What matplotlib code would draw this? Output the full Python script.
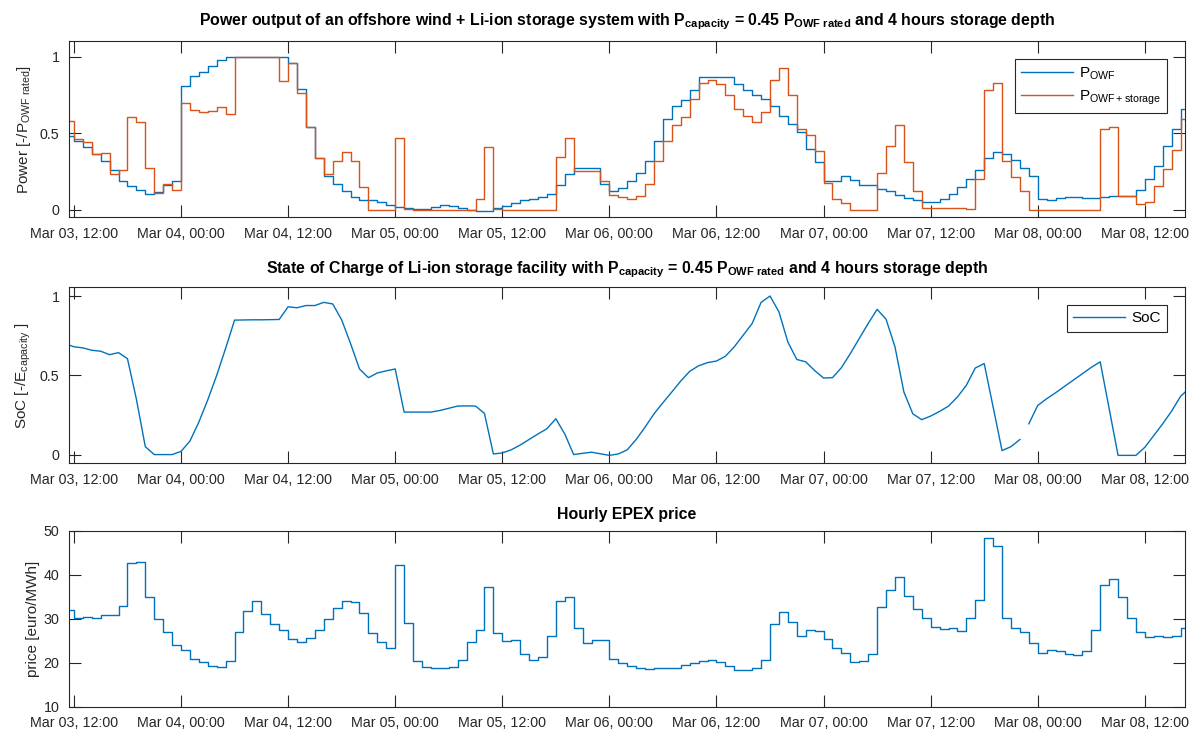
import numpy as np
import matplotlib
matplotlib.use("Agg")
import matplotlib.pyplot as plt
import matplotlib.dates as mdates

plt.rcParams['font.family'] = ['Liberation Sans', 'DejaVu Sans']
plt.rcParams['mathtext.fontset'] = 'custom'
plt.rcParams['mathtext.rm'] = 'Liberation Sans'
plt.rcParams['mathtext.it'] = 'Liberation Sans:italic'
plt.rcParams['mathtext.bf'] = 'Liberation Sans:bold'

# Data (hourly, hour 0 = Mar 03 12:00)
t0 = np.datetime64('2017-03-03T12:00')
hours = np.arange(-1, 125)
soc_hours = np.arange(-1, 126)

p_owf = [0.48, 0.45, 0.41, 0.365, 0.315, 0.256, 0.19, 0.155, 0.127, 0.10,
         0.115, 0.16, 0.185, 0.81, 0.87, 0.90, 0.94, 0.98, 1.0, 1.0,
         1.0, 1.0, 1.0, 1.0, 1.0, 0.96, 0.79, 0.54, 0.34, 0.22,
         0.165, 0.12, 0.085, 0.06, 0.06, 0.05, 0.03, 0.02, 0.01, 0.005,
         0.005, 0.02, 0.03, 0.025, 0.013, 0.0, -0.007, -0.007, 0.01, 0.026,
         0.046, 0.063, 0.072, 0.083, 0.10, 0.16, 0.23, 0.275, 0.275, 0.27,
         0.17, 0.12, 0.14, 0.185, 0.24, 0.315, 0.45, 0.59, 0.68, 0.715,
         0.785, 0.865, 0.865, 0.865, 0.865, 0.82, 0.78, 0.75, 0.725, 0.68,
         0.615, 0.56, 0.505, 0.395, 0.31, 0.185, 0.185, 0.22, 0.195, 0.16,
         0.16, 0.135, 0.12, 0.095, 0.075, 0.06, 0.052, 0.052, 0.07, 0.10,
         0.145, 0.20, 0.26, 0.335, 0.375, 0.365, 0.325, 0.27, 0.22, 0.068,
         0.063, 0.075, 0.083, 0.083, 0.075, 0.075, 0.083, 0.09, 0.09, 0.09,
         0.13, 0.20, 0.285, 0.415, 0.53, 0.66]

p_owf_storage = [0.58, 0.46, 0.44, 0.365, 0.37, 0.23, 0.26, 0.605, 0.575, 0.27,
                 0.11, 0.165, 0.13, 0.70, 0.65, 0.64, 0.645, 0.67, 0.625, 1.0,
                 1.0, 0.995, 1.0, 1.0, 0.84, 0.96, 0.76, 0.54, 0.34, 0.235,
                 0.32, 0.375, 0.32, 0.15, 0.0, 0.0, 0.0, 0.465, 0.005, 0.0,
                 0.0, 0.0, 0.0, 0.0, 0.0, 0.0, 0.07, 0.41, 0.005, 0.0,
                 0.0, 0.0, 0.0, 0.0, 0.0, 0.345, 0.47, 0.25, 0.25, 0.25,
                 0.19, 0.095, 0.08, 0.07, 0.09, 0.17, 0.315, 0.45, 0.55, 0.605,
                 0.72, 0.83, 0.845, 0.82, 0.75, 0.655, 0.615, 0.57, 0.64, 0.85,
                 0.925, 0.75, 0.53, 0.49, 0.38, 0.175, 0.068, 0.046, 0.0, 0.0,
                 0.0, 0.24, 0.415, 0.55, 0.31, 0.12, 0.008, 0.008, 0.008, 0.008,
                 0.013, 0.005, 0.20, 0.785, 0.825, 0.32, 0.215, 0.12, 0.0, 0.0,
                 0.0, 0.0, 0.0, 0.0, 0.0, 0.0, 0.525, 0.54, 0.09, 0.09,
                 0.035, 0.052, 0.155, 0.265, 0.39, 0.59]

soc = [0.70, 0.68, 0.673, 0.658, 0.652, 0.63, 0.643, 0.605, 0.35, 0.05,
       0.0, 0.0, 0.0, 0.02, 0.085, 0.205, 0.345, 0.50, 0.67, 0.848,
       0.849, 0.85, 0.85, 0.851, 0.852, 0.932, 0.926, 0.94, 0.94, 0.96,
       0.95, 0.85, 0.70, 0.54, 0.485, 0.515, 0.528, 0.54, 0.268, 0.268,
       0.268, 0.268, 0.278, 0.292, 0.306, 0.307, 0.306, 0.26, 0.004, 0.01,
       0.03, 0.06, 0.095, 0.13, 0.163, 0.226, 0.13, 0.0, 0.008, 0.015,
       0.005, -0.005, 0.004, 0.03, 0.095, 0.173, 0.257, 0.327, 0.395, 0.464,
       0.525, 0.56, 0.58, 0.59, 0.62, 0.68, 0.753, 0.827, 0.96, 1.0,
       0.90, 0.71, 0.60, 0.585, 0.53, 0.483, 0.485, 0.548, 0.637, 0.732,
       0.827, 0.916, 0.854, 0.68, 0.395, 0.257, 0.22, 0.243, 0.272, 0.306,
       0.363, 0.437, 0.546, 0.574, 0.30, 0.025, 0.05, 0.095, 0.194, 0.31,
       0.352, 0.39, 0.43, 0.47, 0.51, 0.55, 0.585, 0.29, -0.005, -0.005,
       -0.005, 0.046, 0.12, 0.194, 0.274, 0.367, 0.42]
soc_break = 108  # no line between hour 106 and hour 107

price = [32.0, 30.2, 30.5, 30.1, 30.9, 30.9, 32.9, 42.7, 42.9, 35.0,
         30.0, 27.0, 24.0, 22.9, 20.8, 20.1, 19.2, 19.0, 20.3, 26.9,
         31.7, 34.0, 31.1, 28.8, 27.4, 25.3, 24.6, 25.6, 27.5, 30.0,
         32.5, 34.0, 33.8, 31.2, 26.7, 24.8, 23.3, 42.2, 29.0, 20.3,
         19.0, 18.9, 18.9, 19.1, 20.7, 24.6, 27.4, 37.2, 26.8, 24.9,
         25.1, 22.0, 20.6, 21.3, 26.0, 34.0, 35.0, 27.8, 24.4, 25.1,
         25.1, 20.75, 20.0, 19.2, 18.7, 18.6, 18.9, 18.7, 18.7, 19.4,
         20.0, 20.3, 20.6, 20.15, 19.3, 18.3, 18.3, 18.7, 20.6, 28.9,
         31.6, 29.2, 26.1, 27.5, 27.2, 25.5, 23.4, 22.3, 20.1, 20.5,
         21.9, 32.7, 36.5, 39.4, 35.2, 32.1, 30.1, 28.2, 27.6, 27.8,
         27.2, 30.1, 34.2, 48.3, 46.6, 30.1, 28.0, 27.0, 24.4, 22.3,
         22.9, 22.7, 22.0, 21.7, 22.7, 27.4, 37.7, 39.0, 35.0, 30.1,
         26.9, 25.9, 26.1, 25.9, 26.1, 28.0]

blue = '#0072BD'
orange = '#D95319'
axcol = '#262626'

hr = np.timedelta64(1, 'h')
t_steps = t0 + np.append(hours, hours[-1] + 1) * hr
t_soc = t0 + soc_hours * hr

def steps(v):
    return np.append(v, v[-1])

fig = plt.figure(figsize=(11.98, 7.31), dpi=100)
left, width, height = 69 / 1198, 1116 / 1198, 176 / 731
ax1 = fig.add_axes([left, 1 - 217.3 / 731, width, height])
ax2 = fig.add_axes([left, 1 - 463.3 / 731, width, height])
ax3 = fig.add_axes([left, 1 - 706.7 / 731, width, height])

ax1.step(t_steps, steps(p_owf), where='post', color=blue, lw=1.0, label=r'P$_{\mathrm{OWF}}$')
ax1.step(t_steps, steps(p_owf_storage), where='post', color=orange, lw=1.0,
         label=r'P$_{\mathrm{OWF+storage}}$')
ax2.plot(t_soc[:soc_break], soc[:soc_break], color=blue, lw=1.0, label='SoC')
ax2.plot(t_soc[soc_break:], soc[soc_break:], color=blue, lw=1.0)
ax3.step(t_steps, steps(price), where='post', color=blue, lw=1.0)

xmin = t0 - np.timedelta64(33, 'm')
xmax = t0 + np.timedelta64(124 * 60 + 30, 'm')
ticks = t0 + np.arange(0, 121, 12) * hr

for ax in (ax1, ax2, ax3):
    ax.set_xlim(xmin, xmax)
    ax.set_xticks(ticks)
    ax.xaxis.set_major_formatter(mdates.DateFormatter('%b %d, %H:%M'))
    ax.tick_params(direction='in', top=True, right=True, length=8.4, width=0.8,
                   colors=axcol, labelsize=10.3, labelcolor=axcol)
    ax.tick_params(axis='y', pad=6.8)
    ax.tick_params(axis='x', pad=6.8)
    for s in ax.spines.values():
        s.set_color(axcol)
        s.set_linewidth(0.8)

ax1.set_ylim(-0.05, 1.1)
ax1.set_yticks([0, 0.5, 1])
ax1.set_yticklabels(['0', '0.5', '1'])
ax2.set_ylim(-0.055, 1.055)
ax2.set_yticks([0, 0.5, 1])
ax2.set_yticklabels(['0', '0.5', '1'])
ax3.set_ylim(10, 50)
ax3.set_yticks([10, 20, 30, 40, 50])

ax1.set_ylabel(r'Power [-/P$_{\mathrm{OWF\ rated}}$]', fontsize=11, color=axcol)
ax2.set_ylabel(r'SoC [-/E$_{\mathrm{capacity}}$ ]', fontsize=11, color=axcol)
ax3.set_ylabel('price [euro/MWh]', fontsize=11, color=axcol)
ax1.yaxis.set_label_coords(-0.032, 0.5)
ax2.yaxis.set_label_coords(-0.032, 0.5)
ax3.yaxis.set_label_coords(-0.026, 0.5)

t1 = (r'Power output of an offshore wind + Li-ion storage system with '
      r'P$_{\mathbf{capacity}}$ = 0.45 P$_{\mathbf{OWF\ rated}}$ and 4 hours storage depth')
t2 = (r'State of Charge of Li-ion storage facility with '
      r'P$_{\mathbf{capacity}}$ = 0.45 P$_{\mathbf{OWF\ rated}}$ and 4 hours storage depth')
t3 = 'Hourly EPEX price'
ax1.text(0.5, 1.092, t1, transform=ax1.transAxes, ha='center', va='baseline',
         fontsize=11.4, fontweight='bold')
ax2.text(0.5, 1.081, t2, transform=ax2.transAxes, ha='center', va='baseline',
         fontsize=11.4, fontweight='bold')
ax3.text(0.5, 1.066, t3, transform=ax3.transAxes, ha='center', va='baseline',
         fontsize=11.4, fontweight='bold')

leg_kw = dict(loc='upper right', borderaxespad=0, fontsize=11, handlelength=3.4,
              handletextpad=0.4, borderpad=0.4, fancybox=False, framealpha=1,
              edgecolor=axcol)
l1 = ax1.legend(bbox_to_anchor=(1 - 18 / 1116, 1 - 18 / 175.6), labelspacing=0.45, **leg_kw)
l2 = ax2.legend(bbox_to_anchor=(1 - 18 / 1116, 1 - 18 / 176), **leg_kw)
for l in (l1, l2):
    l.get_frame().set_linewidth(0.8)

fig.savefig('out.png', dpi=100)
